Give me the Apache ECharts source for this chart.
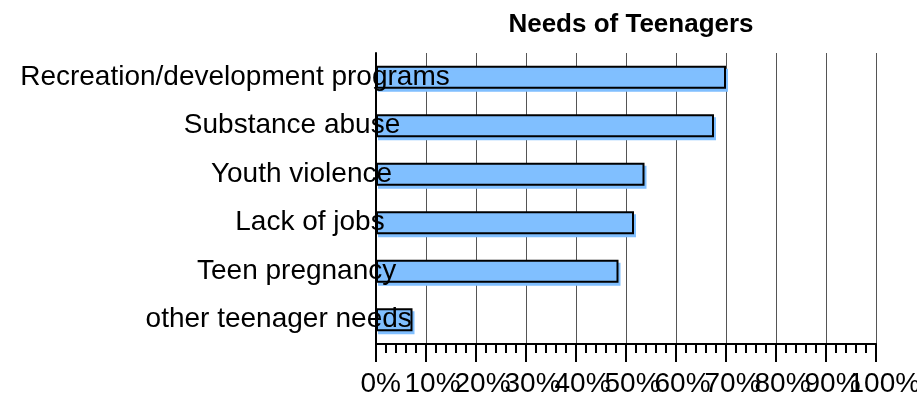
<!DOCTYPE html>
<html>
<head>
<meta charset="utf-8">
<title>Needs of Teenagers</title>
<script src="https://cdn.jsdelivr.net/npm/echarts@6/dist/echarts.min.js"></script>
<style>
  html, body { margin: 0; padding: 0; background: #fff; }
  #chart { width: 917px; height: 397px; }
</style>
</head>
<body>
<div id="chart"></div>
<script>
// Survey categories, top to bottom
const categories = [
  'Recreation/development programs',
  'Substance abuse',
  'Youth violence',
  'Lack of jobs',
  'Teen pregnancy',
  'other teenager needs'
];
// Share of responses (%)
const shares = [70, 67.6, 53.7, 51.6, 48.5, 7.3];
// Percentage scale ticks
const percentTicks = [0, 10, 20, 30, 40, 50, 60, 70, 80, 90, 100];

const TITLE = 'Needs of Teenagers';
const FONT = '"Liberation Sans", Arial, sans-serif';
const TITLE_SIZE = 26;
const LABEL_SIZE = 28;      // drawn size of the axis text
const LAYOUT_SIZE = 21.5;   // size the label placement is computed with
const CHART_W = 917;
const GRID_LEFT = 376;
const GRID_RIGHT = 41;
const LABEL_RIGHT = 350;    // right edge the category labels are laid out against

const measureCtx = document.createElement('canvas').getContext('2d');
function textWidth(str, size, weight) {
  measureCtx.font = (weight || 'normal') + ' ' + size + 'px ' + FONT;
  return measureCtx.measureText(str).width;
}

// Category labels: laid out right-aligned with the smaller layout size,
// then drawn at the larger size so they run on into the bars.
const richY = {};
categories.forEach((c, i) => {
  richY['c' + i] = {
    fontFamily: FONT, fontSize: LABEL_SIZE, color: '#000',
    padding: [0, 0, 0, Math.max(0, LABEL_RIGHT - textWidth(c, LAYOUT_SIZE))]
  };
});

// Tick labels: centred by the layout size, drawn larger (they overlap).
const richX = {};
percentTicks.forEach(v => {
  const s = v + '%';
  richX['t' + v] = {
    fontFamily: FONT, fontSize: LABEL_SIZE, color: '#000',
    padding: [0, 0, 0, textWidth(s, LABEL_SIZE) - textWidth(s, LAYOUT_SIZE)]
  };
});
// The overlapping tick labels are split over two coincident axes
// (even and odd tens) so none of them gets culled.
const tickLabel = keepOdd => v => {
  const odd = (v / 10) % 2 === 1;
  return odd === keepOdd ? '{t' + v + '|' + v + '%}' : '';
};
const xLabelBase = {
  margin: 26,
  align: 'center',
  showMinLabel: true,
  showMaxLabel: true,
  fontFamily: FONT,
  fontSize: LABEL_SIZE,
  color: '#000',
  rich: richX
};

// Title centred over the plotting area
const plotCenter = GRID_LEFT + (CHART_W - GRID_LEFT - GRID_RIGHT) / 2;
const titleLeft = plotCenter - textWidth(TITLE, TITLE_SIZE, 'bold') / 2;

const chart = echarts.init(document.getElementById('chart'), null, { renderer: 'canvas' });
chart.setOption({
  animation: false,
  backgroundColor: '#fff',
  title: {
    text: TITLE,
    left: titleLeft,
    top: 7,
    textStyle: { fontFamily: FONT, fontSize: TITLE_SIZE, fontWeight: 'bold', color: '#000' }
  },
  grid: { left: GRID_LEFT, right: GRID_RIGHT, top: 53, bottom: 53, outerBoundsMode: 'none' },
  xAxis: [{
    type: 'value',
    position: 'bottom',
    min: 0,
    max: 100,
    interval: 10,
    axisLine: { show: true, lineStyle: { color: '#000', width: 2 } },
    axisTick: { show: true, length: 18, lineStyle: { color: '#000', width: 2 } },
    minorTick: { show: true, splitNumber: 5, length: 9, lineStyle: { color: '#000', width: 2 } },
    splitLine: { show: true, lineStyle: { color: '#555', width: 1 } },
    axisLabel: Object.assign({}, xLabelBase, { formatter: tickLabel(false) })
  }, {
    type: 'value',
    position: 'bottom',
    min: 0,
    max: 100,
    interval: 10,
    axisLine: { show: false },
    axisTick: { show: false },
    minorTick: { show: false },
    splitLine: { show: false },
    axisLabel: Object.assign({}, xLabelBase, { formatter: tickLabel(true) })
  }],
  yAxis: {
    type: 'category',
    data: categories,
    inverse: true,
    z: 5,
    axisLine: { show: true, lineStyle: { color: '#000', width: 2 } },
    axisTick: { show: false },
    splitLine: { show: false },
    axisLabel: {
      interval: 0,
      align: 'left',
      margin: GRID_LEFT,
      fontFamily: FONT,
      fontSize: LABEL_SIZE,
      color: '#000',
      formatter: (v, i) => '{c' + i + '|' + v + '}',
      rich: richY
    }
  },
  series: [{
    type: 'bar',
    xAxisIndex: 0,
    data: shares,
    barWidth: '47%',
    itemStyle: {
      color: '#80bfff',
      borderColor: '#000',
      borderWidth: 2,
      shadowColor: '#80bfff',
      shadowBlur: 0,
      shadowOffsetX: 2,
      shadowOffsetY: 3
    }
  }]
});
</script>
</body>
</html>
